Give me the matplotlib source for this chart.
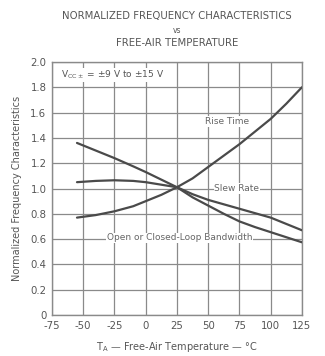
import matplotlib
matplotlib.use("Agg")
import matplotlib.pyplot as plt
from matplotlib.ticker import FuncFormatter

# Free-air temperature (°C)
temp = [-55, -40, -25, -10, 0, 12.5, 25, 37.5, 50, 62.5, 75, 87.5, 100, 112.5, 125]

# Normalized characteristics (1.0 at 25 °C)
rise_time = [0.77, 0.79, 0.82, 0.86, 0.90, 0.95, 1.01, 1.08, 1.17, 1.26, 1.35, 1.45, 1.55, 1.67, 1.80]
slew_rate = [1.05, 1.06, 1.065, 1.06, 1.05, 1.03, 1.01, 0.955, 0.91, 0.875, 0.84, 0.805, 0.77, 0.72, 0.67]
bandwidth = [1.36, 1.30, 1.24, 1.175, 1.13, 1.07, 1.01, 0.93, 0.865, 0.80, 0.74, 0.695, 0.655, 0.615, 0.575]

x_ticks = [-75, -50, -25, 0, 25, 50, 75, 100, 125]
y_ticks = [0, 0.2, 0.4, 0.6, 0.8, 1.0, 1.2, 1.4, 1.6, 1.8, 2.0]

ink = "#4a4a4a"
grid = "#8a8a8a"
plt.rcParams["font.family"] = ["DejaVu Sans"]
plt.rcParams["axes.unicode_minus"] = False

fig = plt.figure(figsize=(3.25, 3.56), dpi=100)
ax = fig.add_axes([0.16, 0.115, 0.769, 0.711])

for series in (rise_time, slew_rate, bandwidth):
    ax.plot(temp, series, color=ink, lw=1.6, solid_capstyle="round", zorder=3)

ax.set_xlim(-75, 125)
ax.set_ylim(0, 2.0)
ax.set_xticks(x_ticks)
ax.set_yticks(y_ticks)
ax.yaxis.set_major_formatter(FuncFormatter(lambda v, p: "0" if v == 0 else f"{v:.1f}"))
ax.grid(True, color=grid, lw=0.9)
ax.set_axisbelow(True)
for s in ax.spines.values():
    s.set_color(grid)
    s.set_linewidth(1.0)
ax.tick_params(length=0, labelsize=7.3, labelcolor="#555555", pad=4)

box = dict(facecolor="white", edgecolor="none", pad=0.5)
ax.text(65, 1.53, "Rise Time", fontsize=6.5, color="#666666", ha="center", va="center", bbox=box, zorder=4)
ax.text(73, 1.00, "Slew Rate", fontsize=6.5, color="#666666", ha="center", va="center", bbox=box, zorder=4)
ax.text(27, 0.61, "Open or Closed-Loop Bandwidth", fontsize=6.5, color="#666666", ha="center", va="center", bbox=box, zorder=4)
ax.text(-68, 1.90, "V$_{\\mathregular{CC\\pm}}$ = ±9 V to ±15 V", fontsize=6.5, color="#555555",
        ha="left", va="center", bbox=box, zorder=4)

ax.set_ylabel("Normalized Frequency Characteristics", fontsize=7, color="#555555", labelpad=6)
ax.set_xlabel("T$_{\\mathregular{A}}$ — Free-Air Temperature — °C", fontsize=7, color="#555555", labelpad=7)

fig.text(0.545, 0.955, "NORMALIZED FREQUENCY CHARACTERISTICS", fontsize=7.3, color="#555555", ha="center", va="center")
fig.text(0.545, 0.915, "vs", fontsize=5.5, color="#555555", ha="center", va="center")
fig.text(0.545, 0.878, "FREE-AIR TEMPERATURE", fontsize=7.3, color="#555555", ha="center", va="center")

fig.savefig("out.png", dpi=100, facecolor="white")
